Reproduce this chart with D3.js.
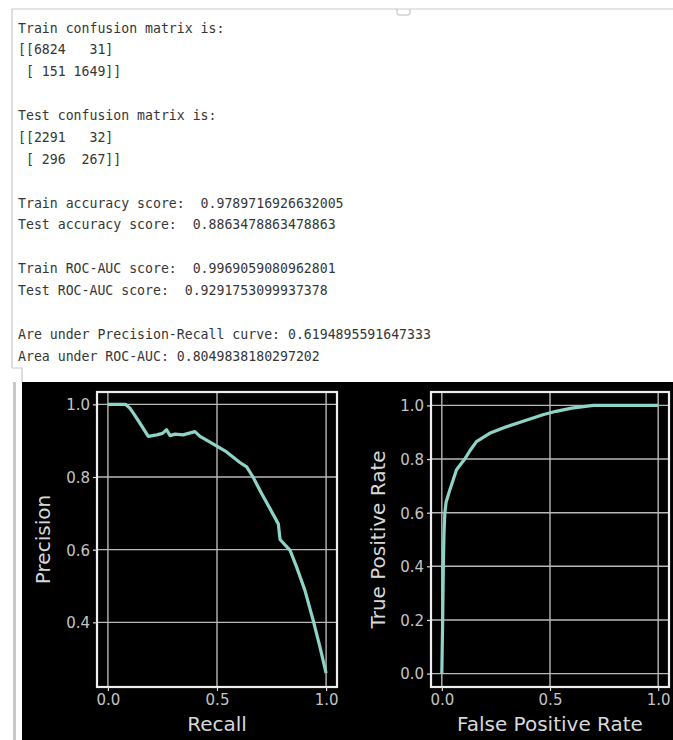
<!DOCTYPE html>
<html>
<head>
<meta charset="utf-8">
<script src="https://cdn.jsdelivr.net/npm/d3@7"></script>
<style>
  html, body { margin: 0; padding: 0; background: #fff; }
  svg { display: block; }
  .console { font-family: "DejaVu Sans Mono", monospace; font-size: 13.2px; fill: #363636; white-space: pre; }
  .tick text { font-family: "DejaVu Sans", sans-serif; font-size: 15px; fill: #c4c4c4; }
  .axis-label { font-family: "DejaVu Sans", sans-serif; font-size: 20px; fill: #d8d8d8; }
</style>
</head>
<body>
<svg id="chart" width="673" height="740"></svg>
<script>
// console output printed above the plots
const consoleLines = [
  'Train confusion matrix is:',
  '[[6824   31]',
  ' [ 151 1649]]',
  '',
  'Test confusion matrix is:',
  '[[2291   32]',
  ' [ 296  267]]',
  '',
  'Train accuracy score:  0.9789716926632005',
  'Test accuracy score:  0.8863478863478863',
  '',
  'Train ROC-AUC score:  0.9969059080962801',
  'Test ROC-AUC score:  0.9291753099937378',
  '',
  'Are under Precision-Recall curve: 0.6194895591647333',
  'Area under ROC-AUC: 0.8049838180297202'
];

// precision-recall curve
const recall = [0, 0.04, 0.08, 0.10, 0.115, 0.147, 0.185, 0.224, 0.25, 0.269, 0.285, 0.308, 0.344,
  0.399, 0.422, 0.468, 0.544, 0.605, 0.636, 0.665, 0.705, 0.743, 0.781, 0.789, 0.835, 0.865,
  0.903, 0.941, 0.972, 1.0];
const precision = [1.0, 1.0, 1.0, 0.99, 0.977, 0.948, 0.912, 0.916, 0.92, 0.93, 0.914, 0.918, 0.916,
  0.925, 0.912, 0.896, 0.869, 0.84, 0.828, 0.80, 0.754, 0.713, 0.671, 0.628, 0.598, 0.552,
  0.488, 0.405, 0.332, 0.26];

// ROC curve
const fpr = [0, 0.004, 0.007, 0.01, 0.014, 0.02, 0.037, 0.068, 0.106, 0.129, 0.16, 0.221, 0.298,
  0.39, 0.467, 0.528, 0.6, 0.7, 0.8, 1.0];
const tpr = [0, 0.2, 0.4, 0.52, 0.6, 0.64, 0.685, 0.76, 0.80, 0.83, 0.865, 0.896, 0.92,
  0.945, 0.965, 0.978, 0.99, 1.0, 1.0, 1.0];

const prTicksY = [0.4, 0.6, 0.8, 1.0];
const rocTicksY = [0, 0.2, 0.4, 0.6, 0.8, 1.0];
const ticksX = [0, 0.5, 1.0];

const svg = d3.select('#chart');
const curveColor = '#8dd3c7';

// --- text panel ---
const panel = svg.append('g');
panel.append('path')
  .attr('d', 'M12,368 V9 H673')
  .attr('fill', 'none').attr('stroke', '#c9c9c9').attr('stroke-width', 1.2);
panel.append('path')
  .attr('d', 'M397,9 v4 q0,2 2,2 h9 q2,0 2,-2 v-4')
  .attr('fill', 'none').attr('stroke', '#bbb').attr('stroke-width', 1);
panel.append('path')
  .attr('d', 'M12,368 H22 V382')
  .attr('fill', 'none').attr('stroke', '#c9c9c9').attr('stroke-width', 1.2);

panel.selectAll('text.console')
  .data(consoleLines)
  .join('text')
  .attr('class', 'console')
  .attr('x', 18)
  .attr('y', (d, i) => 28 + i * 21.87)
  .attr('dy', '0.35em')
  .text((d) => d);

// --- dark figure ---
svg.append('rect').attr('x', 22).attr('y', 382).attr('width', 651).attr('height', 358).attr('fill', '#000');
svg.append('line').attr('x1', 14.5).attr('x2', 14.5).attr('y1', 382).attr('y2', 740)
  .attr('stroke', '#c8c8c8').attr('stroke-width', 3);

function drawPanel(opts) {
  const x = d3.scaleLinear().domain(opts.xDomain).range([opts.left, opts.right]);
  const y = d3.scaleLinear().domain(opts.yDomain).range([opts.bottom, opts.top]);
  const g = svg.append('g');

  // grid
  g.append('g').selectAll('line').data(opts.ticksX).join('line')
    .attr('x1', (d) => x(d)).attr('x2', (d) => x(d))
    .attr('y1', opts.top).attr('y2', opts.bottom)
    .attr('stroke', '#b8b8b8').attr('stroke-width', 1.4);
  g.append('g').selectAll('line').data(opts.ticksY).join('line')
    .attr('y1', (d) => y(d)).attr('y2', (d) => y(d))
    .attr('x1', opts.left).attr('x2', opts.right)
    .attr('stroke', '#b8b8b8').attr('stroke-width', 1.4);

  // curve
  const line = d3.line().x((d) => x(d[0])).y((d) => y(d[1]));
  g.append('path')
    .datum(d3.zip(opts.xs, opts.ys))
    .attr('d', line)
    .attr('fill', 'none')
    .attr('stroke', curveColor)
    .attr('stroke-width', 3.2)
    .attr('stroke-linejoin', 'round');

  // frame
  g.append('rect')
    .attr('x', opts.left).attr('y', opts.top)
    .attr('width', opts.right - opts.left).attr('height', opts.bottom - opts.top)
    .attr('fill', 'none').attr('stroke', '#eeeeee').attr('stroke-width', 2.2);

  const fmt = d3.format('.1f');
  const ax = g.append('g').attr('transform', `translate(0,${opts.bottom})`)
    .call(d3.axisBottom(x).tickValues(opts.ticksX).tickFormat(fmt).tickSize(4).tickPadding(3));
  const ay = g.append('g').attr('transform', `translate(${opts.left},0)`)
    .call(d3.axisLeft(y).tickValues(opts.ticksY).tickFormat(fmt).tickSize(4).tickPadding(3));
  [ax, ay].forEach((a) => {
    a.select('.domain').remove();
    a.selectAll('.tick line').attr('stroke', '#ddd').attr('stroke-width', 1.2);
  });
  ay.selectAll('.tick text').attr('dy', '0.36em');

  g.append('text').attr('class', 'axis-label')
    .attr('text-anchor', 'middle')
    .attr('x', (opts.left + opts.right) / 2)
    .attr('y', 731)
    .text(opts.xLabel);
  g.append('text').attr('class', 'axis-label')
    .attr('text-anchor', 'middle')
    .attr('transform', `translate(${opts.yLabelX},${(opts.top + opts.bottom) / 2}) rotate(-90)`)
    .text(opts.yLabel);
}

drawPanel({
  left: 97, right: 337, top: 392, bottom: 687,
  xDomain: [-0.05, 1.05], yDomain: [0.222, 1.034],
  xs: recall, ys: precision,
  ticksX: ticksX, ticksY: prTicksY,
  xLabel: 'Recall', yLabel: 'Precision', yLabelX: 50
});

drawPanel({
  left: 431, right: 669, top: 392, bottom: 687,
  xDomain: [-0.05, 1.05], yDomain: [-0.05, 1.05],
  xs: fpr, ys: tpr,
  ticksX: ticksX, ticksY: rocTicksY,
  xLabel: 'False Positive Rate', yLabel: 'True Positive Rate', yLabelX: 385
});
</script>
</body>
</html>
